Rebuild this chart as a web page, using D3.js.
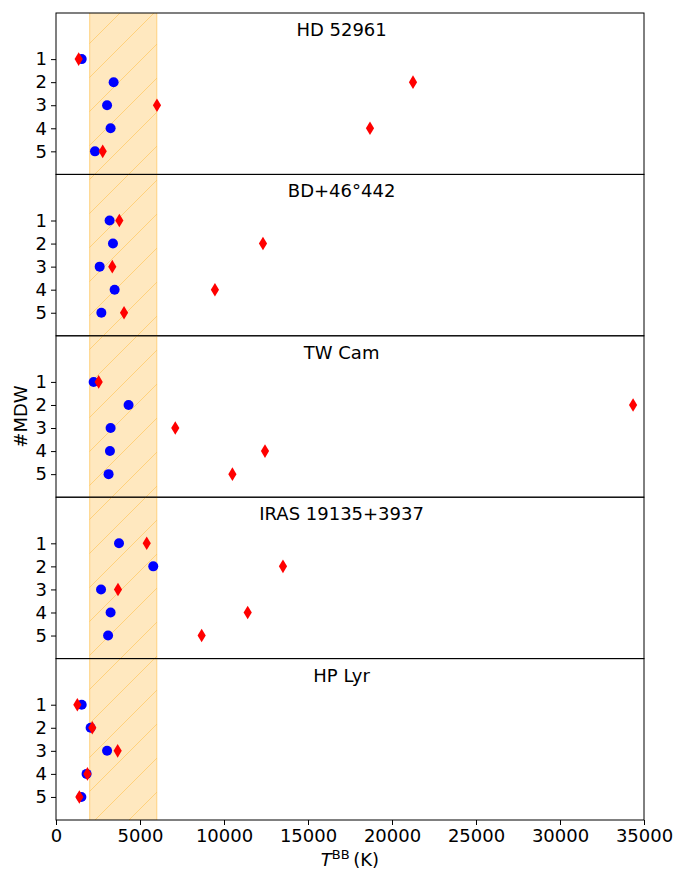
<!DOCTYPE html>
<html>
<head>
<meta charset="utf-8">
<script src="https://cdn.jsdelivr.net/npm/d3@7"></script>
<style>
  body { margin: 0; background: #fff; }
  svg text { font-family: "DejaVu Sans", sans-serif; }
</style>
</head>
<body>
<div id="chart"></div>
<script>
// star names, one panel each
const stars = ['HD 52961', 'BD+46°442', 'TW Cam', 'IRAS 19135+3937', 'HP Lyr'];
const mdw = [1, 2, 3, 4, 5];

// blue circles (K), per star, MDW 1..5
const blueT = [
    [1530, 3430, 3040, 3250, 2320],
    [3190, 3390, 2600, 3490, 2700],
    [2240, 4320, 3250, 3210, 3130],
    [3750, 5790, 2680, 3250, 3100],
    [1530, 2060, 3040, 1820, 1510]
];
// red diamonds (K)
const redT = [
    [1350, 21250, 6010, 18690, 2780],
    [3770, 12320, 3350, 9460, 4050],
    [2540, 34350, 7100, 12440, 10500],
    [5400, 13510, 3690, 11410, 8670],
    [1270, 2160, 3670, 1870, 1390]
];
const band = [2000, 6000];
const xTicks = [0, 5000, 10000, 15000, 20000, 25000, 30000, 35000];

const W = 676, H = 870;
const mLeft = 56, mRight = 644, mTop = 13, mBottom = 820;
const panelH = (mBottom - mTop) / stars.length;

const svg = d3.select('#chart').append('svg')
    .attr('width', W)
    .attr('height', H);

const x = d3.scaleLinear().domain([0, 35000]).range([mLeft, mRight]);

// hatch pattern for the band
const hs = 34;
const pat = svg.append('defs').append('pattern')
    .attr('id', 'hatch')
    .attr('patternUnits', 'userSpaceOnUse')
    .attr('width', hs)
    .attr('height', hs)
    .attr('patternTransform', 'translate(31,0)');
pat.append('path')
    .attr('d', `M0,${hs} L${hs},0 M${-hs / 2},${hs / 2} L${hs / 2},${-hs / 2} M${hs / 2},${hs * 1.5} L${hs * 1.5},${hs / 2}`)
    .style('stroke', 'rgba(255,165,0,0.35)')
    .style('stroke-width', 1);

const diamond = 'M0,-6.8 L4.1,0 L0,6.8 L-4.1,0 Z';

stars.forEach((name, i) => {
    const y0 = mTop + i * panelH;
    const y = d3.scaleLinear().domain([-1, 6]).range([y0, y0 + panelH]);
    const g = svg.append('g');

    // shaded band
    g.append('rect')
        .attr('x', x(band[0]))
        .attr('y', y0)
        .attr('width', x(band[1]) - x(band[0]))
        .attr('height', panelH)
        .style('fill', 'rgba(255,165,0,0.25)');
    g.append('rect')
        .attr('x', x(band[0]))
        .attr('y', y0)
        .attr('width', x(band[1]) - x(band[0]))
        .attr('height', panelH)
        .style('fill', 'url(#hatch)');
    band.forEach(b => {
        g.append('line')
            .attr('x1', x(b)).attr('x2', x(b))
            .attr('y1', y0).attr('y2', y0 + panelH)
            .style('stroke', 'rgba(255,165,0,0.35)')
            .style('stroke-width', 1.2);
    });

    // points
    g.selectAll('.dot')
        .data(mdw.map((m, j) => ({ m: m, t: blueT[i][j] })))
        .enter().append('circle')
        .attr('class', 'dot')
        .attr('r', 5)
        .attr('cx', d => x(d.t))
        .attr('cy', d => y(d.m))
        .style('fill', '#0000ff');

    g.selectAll('.dia')
        .data(mdw.map((m, j) => ({ m: m, t: redT[i][j] })))
        .enter().append('path')
        .attr('class', 'dia')
        .attr('d', diamond)
        .attr('transform', d => `translate(${x(d.t)},${y(d.m)})`)
        .style('fill', '#ff0000');

    // title
    g.append('text')
        .attr('x', x(17000))
        .attr('y', y0 + 23)
        .attr('text-anchor', 'middle')
        .style('font-size', '18px')
        .text(name);

    // y axis
    const yAxis = g.append('g')
        .attr('transform', `translate(${mLeft},0)`)
        .call(d3.axisLeft(y).tickValues(mdw).tickSize(5).tickPadding(4).tickFormat(d3.format('d')));
    yAxis.select('.domain').remove();
    yAxis.selectAll('text').style('font-size', '18px').style('font-family', '"DejaVu Sans", sans-serif');
    yAxis.selectAll('line').style('stroke-width', 1);

    // frame
    g.append('rect')
        .attr('x', mLeft)
        .attr('y', y0)
        .attr('width', mRight - mLeft)
        .attr('height', panelH)
        .style('fill', 'none')
        .style('stroke', '#000')
        .style('stroke-width', 1);
});

// x axis at the bottom
const xAxis = svg.append('g')
    .attr('transform', `translate(0,${mBottom})`)
    .call(d3.axisBottom(x).tickValues(xTicks).tickSize(5).tickPadding(4).tickFormat(d3.format('d')));
xAxis.select('.domain').remove();
xAxis.selectAll('text').style('font-size', '18px').style('font-family', '"DejaVu Sans", sans-serif');

// axis labels
const xl = svg.append('text')
    .attr('x', (mLeft + mRight) / 2)
    .attr('y', 866)
    .attr('text-anchor', 'middle')
    .style('font-size', '18px');
xl.append('tspan').style('font-style', 'italic').text('T');
xl.append('tspan').attr('dy', -7).style('font-size', '13px').text('BB');
xl.append('tspan').attr('dy', 7).text('\u2009(K)');

svg.append('text')
    .attr('transform', `translate(27,${(mTop + mBottom) / 2}) rotate(-90)`)
    .attr('text-anchor', 'middle')
    .style('font-size', '18px')
    .text('#MDW');
</script>
</body>
</html>
